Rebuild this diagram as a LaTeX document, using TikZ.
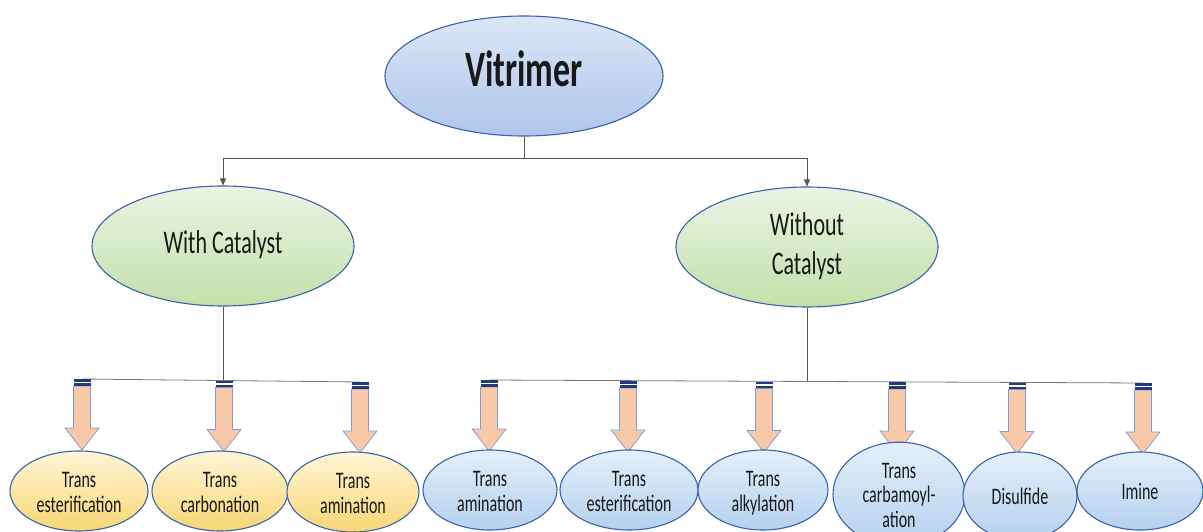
\documentclass[tikz,border=0pt]{standalone}
\usepackage{fontspec}
\setmainfont{Carlito}
\usepackage{graphicx}
\usetikzlibrary{shapes.geometric,arrows.meta}
\newcommand\tx[2][1.42]{\scalebox{1}[#1]{\begin{tabular}{@{}c@{}}#2\end{tabular}}}
\newcommand\txb[1]{\raisebox{-4pt}[\height][\depth]{\tx[1.48]{#1}}}
\definecolor{ebord}{HTML}{3A62A8}
\definecolor{vtop}{HTML}{DCE6F6}
\definecolor{vbot}{HTML}{AFC5EB}
\definecolor{gtop}{HTML}{EBF4E4}
\definecolor{gbot}{HTML}{C3DFAA}
\definecolor{ytop}{HTML}{FFF5D6}
\definecolor{ybot}{HTML}{F7D774}
\definecolor{btop}{HTML}{E4EFFA}
\definecolor{bbot}{HTML}{B5D1EE}
\definecolor{afill}{HTML}{F8C9A8}
\definecolor{abord}{HTML}{7F9BD0}
\definecolor{navy}{HTML}{1F3C7A}
\definecolor{lin}{HTML}{555555}
\tikzset{
  ell/.style={ellipse, draw=ebord, line width=1.1pt, inner sep=0pt, text=black!90},
  vitstyle/.style={ell, top color=vtop, bottom color=vbot, minimum width=278pt, minimum height=120pt, font=\fontsize{34}{34}\selectfont\bfseries},
  midstyle/.style={ell, top color=gtop, bottom color=gbot, minimum width=262pt, minimum height=120pt, font=\fontsize{22}{26}\selectfont},
  yelstyle/.style={ell, top color=ytop, bottom color=ybot, minimum height=80pt, font=\fontsize{16}{16.5}\selectfont},
  blustyle/.style={ell, top color=btop, bottom color=bbot, minimum height=80pt, font=\fontsize{16}{16.5}\selectfont},
  conn/.style={draw=lin, line width=0.8pt},
  tipconn/.style={conn, -{Triangle[width=6pt,length=7pt]}},
  barline/.style={draw=lin!80, line width=0.8pt},
  barrow/.pic={
    \filldraw[draw=abord, fill=afill, line width=0.7pt]
      (-8.5,7) -- (8.5,7) -- (8.5,49) -- (17,49) -- (0,71) -- (-17,49) -- (-8.5,49) -- cycle;
    \fill[navy] (-8.5,0) rectangle (8.5,2.5);
    \fill[white] (-8.5,2.5) rectangle (8.5,4.3);
    \fill[navy] (-8.5,4.3) rectangle (8.5,6.8);
  }
}
\begin{document}
\begin{tikzpicture}[x=1pt,y=-1pt]
\useasboundingbox (0,0) rectangle (1203,532);
\begin{scope}
\clip (0,0) rectangle (1203,532);
% top
\node[vitstyle] (vit) at (524,76) {\tx[1.5]{Vitrimer}};
\node[midstyle] (wc) at (223,246) {\tx[1.5]{With Catalyst}};
\node[midstyle] (woc) at (807,247) {\tx[1.5]{Without\\Catalyst}};
\coordinate (j1) at (524,158);
\draw[tipconn] (vit.south) -- (j1) -| (wc.north);
\draw[tipconn] (j1) -| (woc.north);
% arrow anchors
\coordinate (a1) at (82,379);
\coordinate (a2) at (224,380.5);
\coordinate (a3) at (360,382);
\coordinate (a4) at (489,380);
\coordinate (a5) at (628,381);
\coordinate (a6) at (764,381.5);
\coordinate (a7) at (897,382);
\coordinate (a8) at (1017,382.5);
\coordinate (a9) at (1143,383);
\draw[conn] (wc.south) -- (wc.south |- a2);
\draw[barline] (a1) -- (a3);
\draw[conn] (woc.south) -- (woc.south |- a6);
\draw[barline] (a4) -- (a9);
\foreach \a in {a1,a2,a3,a4,a5,a6,a7,a8,a9} { \pic at (\a) {barrow}; }
% bottom nodes
\node[yelstyle, minimum width=138pt] (l1) at (79,491) {\txb{Trans\\esterification}};
\node[yelstyle, minimum width=136pt] (l2) at (220,491) {\txb{Trans\\carbonation}};
\node[yelstyle, minimum width=132pt] (l3) at (353,492) {\txb{Trans\\amination}};
\node[blustyle, minimum width=134pt] (r1) at (490,490) {\txb{Trans\\amination}};
\node[blustyle, minimum width=138pt] (r2) at (629,490) {\txb{Trans\\esterification}};
\node[blustyle, minimum width=130pt] (r3) at (763,490) {\txb{Trans\\alkylation}};
\node[blustyle, minimum width=132pt, minimum height=88pt] (r4) at (899,494) {\txb{Trans\\carbamoyl-\\ation}};
\node[blustyle, minimum width=114pt, minimum height=88pt] (r5) at (1020,496) {\txb{Disulfide}};
\node[blustyle, minimum width=126pt, minimum height=78pt] (r6) at (1140,491) {\txb{Imine}};
\end{scope}
\end{tikzpicture}
\end{document}
